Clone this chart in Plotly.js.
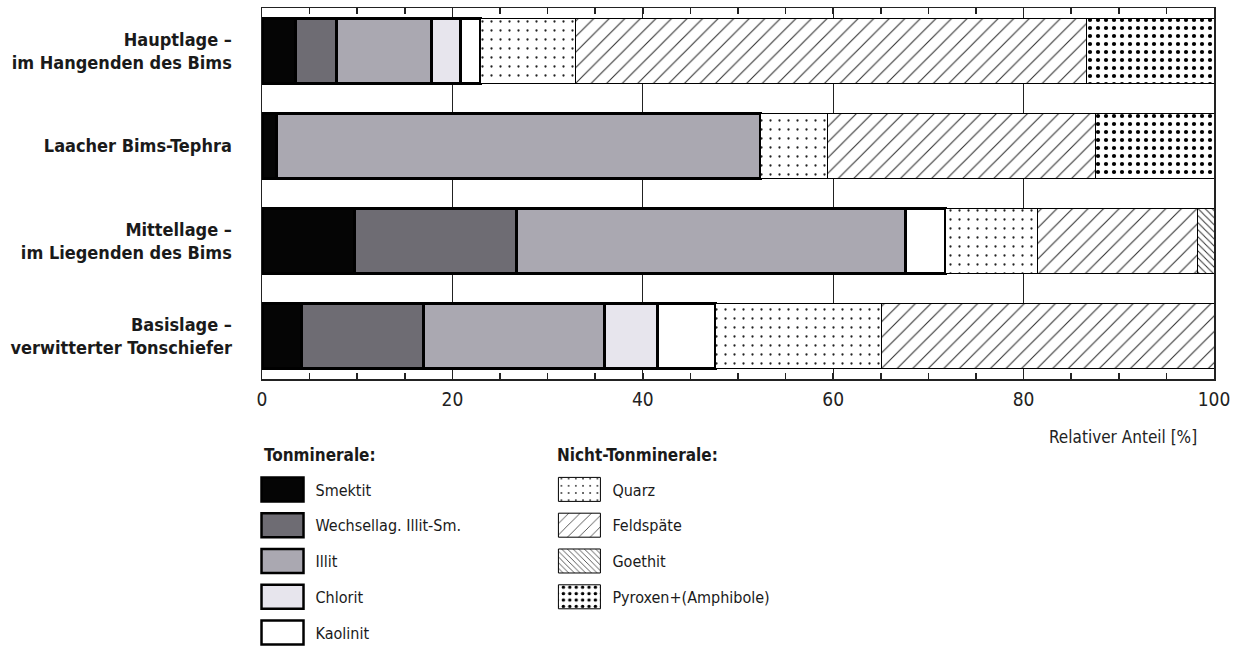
<!DOCTYPE html>
<html>
<head>
<meta charset="utf-8">
<script src="https://cdn.plot.ly/plotly-3.0.1.min.js"></script>
<style>html,body{margin:0;padding:0;background:#fff;}#chart{width:1234px;height:651px;}</style>
</head>
<body>
<div id="chart"></div>
<script>
// Categories (top to bottom as shown)
const categories = [
  "Hauptlage –<br>im Hangenden des Bims",
  "Laacher Bims-Tephra",
  "Mittellage –<br>im Liegenden des Bims",
  "Basislage –<br>verwitterter Tonschiefer"
];
// Series values (% share), in the same order as categories
const smektit    = [3.5, 1.5, 9.7, 4.1];
const wechsellag = [4.3, 0,  17.0, 12.9];
const illit      = [10.0, 50.9, 40.9, 19.0];
const chlorit    = [3.0, 0,   0,   5.5];
const kaolinit   = [2.2, 0,   4.2, 6.1];
const quarz      = [9.9, 7.0, 9.7, 17.5];
const feldspaete = [53.7, 28.1, 16.8, 34.9];
const goethit    = [0,   0,   1.7, 0];
const pyroxen    = [13.4, 12.5, 0,  0];

const seriesNames = ["Smektit","Wechsellag. Illit-Sm.","Illit","Chlorit","Kaolinit",
                     "Quarz","Feldspäte","Goethit","Pyroxen+(Amphibole)"];
const seriesValues = [smektit, wechsellag, illit, chlorit, kaolinit, quarz, feldspaete, goethit, pyroxen];
const xTicks = [0, 20, 40, 60, 80, 100];
const legendHeadings = ["Tonminerale:", "Nicht-Tonminerale:"];
const axisLabel = "Relativer Anteil [%]";

const FONT = '"DejaVu Sans Condensed", "Liberation Sans Narrow", "Arial Narrow", sans-serif';

const styles = [
  {legend:'legend',  color:'#050505', lw:3},
  {legend:'legend',  color:'#6e6c73', lw:3},
  {legend:'legend',  color:'#aaa8b1', lw:3},
  {legend:'legend',  color:'#e7e5ed', lw:3},
  {legend:'legend',  color:'#ffffff', lw:3},
  {legend:'legend2', color:'#ffffff', lw:1, pattern:{shape:'.', size:9, solidity:0.05, fgcolor:'#222', bgcolor:'#fff', fillmode:'replace'}},
  {legend:'legend2', color:'#ffffff', lw:1, pattern:{shape:'/', size:11, solidity:0.1, fgcolor:'#333', bgcolor:'#fff', fillmode:'replace'}},
  {legend:'legend2', color:'#ffffff', lw:1, pattern:{shape:'\\', size:5, solidity:0.2, fgcolor:'#333', bgcolor:'#fff', fillmode:'replace'}},
  {legend:'legend2', color:'#ffffff', lw:1, pattern:{shape:'.', size:8, solidity:0.22, fgcolor:'#000', bgcolor:'#fff', fillmode:'replace'}}
];

const traces = seriesNames.map((name, i) => {
  const s = styles[i];
  const marker = {color: s.color, line: {color: '#000', width: s.lw}};
  if (s.pattern) marker.pattern = s.pattern;
  return {
    type: 'bar', orientation: 'h', name: name,
    x: seriesValues[i], y: categories,
    width: 0.69, marker: marker,
    legend: s.legend, legendgroup: 'g' + i,
    hoverinfo: 'skip'
  };
});

const legendCommon = {
  xref: 'container', yref: 'container', xanchor: 'left', yanchor: 'top',
  orientation: 'v', traceorder: 'grouped', tracegroupgap: 12,
  font: {family: FONT, size: 16, color: '#1a1a1a'},
  bgcolor: 'rgba(0,0,0,0)', itemwidth: 56, itemclick: false, itemdoubleclick: false
};

const layout = {
  width: 1234, height: 651,
  margin: {l: 262, r: 20, t: 8, b: 272, autoexpand: false},
  paper_bgcolor: '#fff', plot_bgcolor: '#fff',
  barmode: 'stack',
  font: {family: FONT, color: '#1a1a1a', size: 16},
  xaxis: {
    range: [0, 100], tickvals: xTicks, ticktext: xTicks.map(String),
    showgrid: true, gridcolor: '#222', gridwidth: 1,
    showline: true, linecolor: '#222', linewidth: 1.5, mirror: 'ticks',
    ticks: 'inside', ticklen: 6, tickcolor: '#222', tickwidth: 1.5,
    minor: {dtick: 5, tick0: 0, ticks: 'inside', ticklen: 6, tickcolor: '#222', tickwidth: 1.5, showgrid: false},
    tickfont: {family: FONT, size: 19, color: '#222'}, ticklabelstandoff: 3,
    zeroline: false, fixedrange: true
  },
  yaxis: {
    type: 'category', categoryorder: 'array', categoryarray: categories.slice().reverse(),
    range: [-0.452, 3.452],
    showgrid: false, showline: true, linecolor: '#222', linewidth: 1.5, mirror: true,
    ticks: '', ticklabelstandoff: 25,
    tickfont: {family: FONT, size: 18, color: '#1a1a1a', weight: 'bold'},
    fixedrange: true
  },
  showlegend: true,
  legend: Object.assign({}, legendCommon, {x: 0.2022, y: 0.2742}),
  legend2: Object.assign({}, legendCommon, {x: 0.4428, y: 0.2742}),
  annotations: [
    {text: axisLabel, xref: 'paper', yref: 'paper', x: 0.984, y: -0.155,
     xanchor: 'right', yanchor: 'middle', showarrow: false,
     font: {family: FONT, size: 17, color: '#222'}},
    {text: legendHeadings[0], xref: 'paper', yref: 'paper', x: 0, y: -0.205,
     xanchor: 'left', yanchor: 'middle', showarrow: false,
     font: {family: FONT, size: 17, color: '#1a1a1a', weight: 'bold'}},
    {text: legendHeadings[1], xref: 'paper', yref: 'paper', x: 0.3078, y: -0.205,
     xanchor: 'left', yanchor: 'middle', showarrow: false,
     font: {family: FONT, size: 17, color: '#1a1a1a', weight: 'bold'}}
  ]
};

Plotly.newPlot('chart', traces, layout, {displayModeBar: false, staticPlot: true}).then(gd => {
  // enlarge the legend swatches to the size used in the reference
  gd.querySelectorAll('g.traces').forEach(tr => {
    const d = tr.__data__;
    const trace = d && d[0] && d[0].trace;
    tr.querySelectorAll('.legendpoints path').forEach(p => {
      p.setAttribute('d', 'M21,12H-21V-12H21Z');
      if (trace) p.style.strokeWidth = (trace.marker.line.width >= 3 ? 2.5 : 1) + 'px';
    });
  });
});
</script>
</body>
</html>
